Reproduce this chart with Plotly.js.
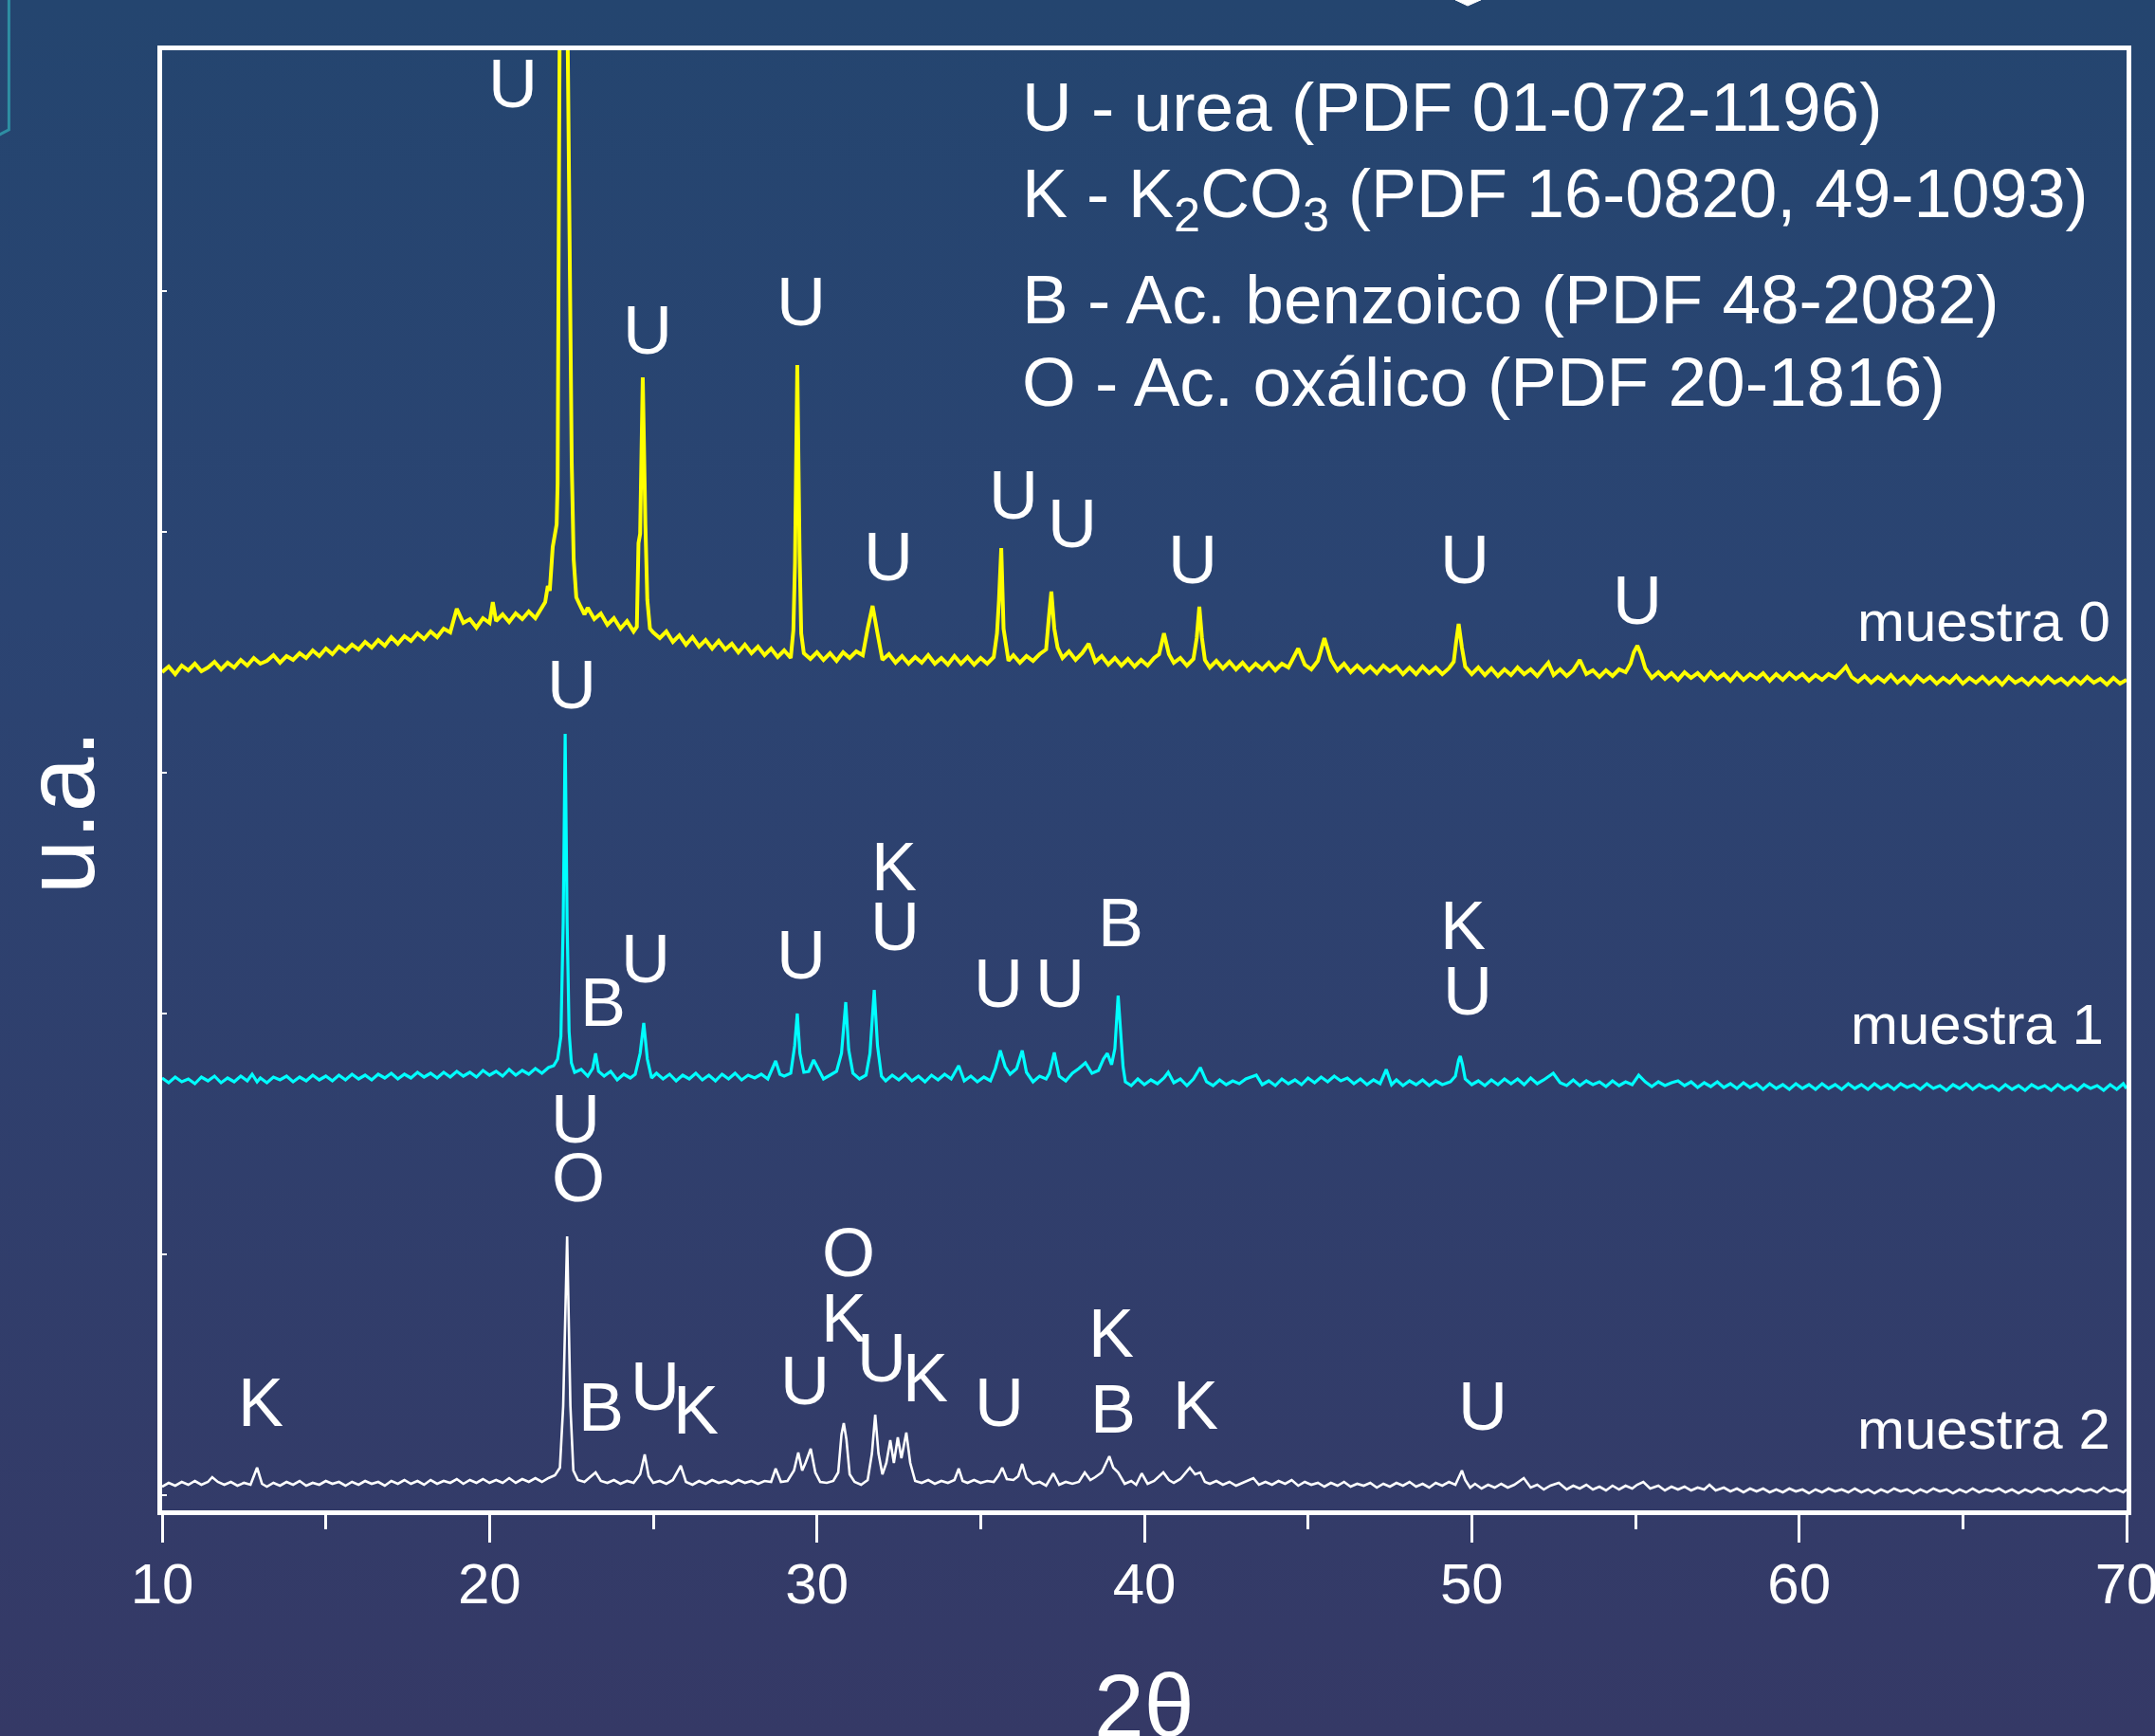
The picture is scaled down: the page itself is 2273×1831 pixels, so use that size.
<!DOCTYPE html>
<html>
<head>
<meta charset="utf-8">
<script src="https://cdn.plot.ly/plotly-3.0.1.min.js"></script>
<style>
html, body { margin: 0; padding: 0; overflow: hidden; }
body { width: 2273px; height: 1831px; background: linear-gradient(to bottom, #24456f 0%, #2b4472 35%, #353966 100%); }
#chart { width: 2273px; height: 1831px; }
</style>
</head>
<body>
<div id="chart"></div>
<script>
// ---- data: [2theta, intensity (arbitrary units, offset stacked)] ----
const muestra0 = [[10.0,884],[10.2,890],[10.4,882],[10.6,891],[10.8,886],[11.0,893],[11.2,885],[11.4,889],[11.6,895],[11.8,887],
[12.0,894],[12.2,889],[12.4,897],[12.6,891],[12.8,899],[13.0,893],[13.2,896],[13.4,902],[13.6,894],[13.8,901],
[14.0,897],[14.2,904],[14.4,899],[14.6,907],[14.8,901],[15.0,909],[15.2,903],[15.4,911],[15.6,906],[15.8,913],
[16.0,908],[16.2,916],[16.4,910],[16.6,918],[16.8,912],[17.0,921],[17.2,914],[17.4,922],[17.6,917],[17.8,925],
[18.0,919],[18.2,927],[18.4,921],[18.6,930],[18.8,926],[19.0,951],[19.2,936],[19.4,940],[19.6,931],[19.8,941],
[20.0,936],[20.1,958],[20.2,938],[20.4,945],[20.6,937],[20.8,946],[21.0,940],[21.2,948],[21.4,941],[21.6,952],
[21.7,958],[21.78,975],[21.84,970],[21.93,1016],[22.05,1040],[22.08,1083],[22.13,1284],[22.19,1540],[22.29,2700],[22.39,1540],
[22.48,1240],[22.51,1106],[22.57,1003],[22.65,963],[22.77,954],[22.9,945],[23.0,952],[23.2,940],[23.4,946],[23.6,934],
[23.8,941],[24.0,930],[24.2,938],[24.4,927],[24.5,932],[24.55,1020],[24.6,1030],[24.68,1195],[24.76,1040],[24.82,960],
[24.9,930],[25.0,926],[25.2,920],[25.4,927],[25.6,916],[25.8,923],[26.0,913],[26.2,921],[26.4,911],[26.6,918],
[26.8,909],[27.0,917],[27.2,908],[27.4,914],[27.6,905],[27.8,913],[28.0,904],[28.2,911],[28.4,902],[28.6,909],
[28.8,900],[29.0,907],[29.2,899],[29.28,928],[29.33,1000],[29.4,1208],[29.47,1010],[29.52,925],[29.6,904],[29.8,898],
[30.0,905],[30.2,897],[30.4,904],[30.6,896],[30.8,905],[31.0,899],[31.2,906],[31.4,902],[31.55,930],[31.7,954],
[31.85,925],[32.0,897],[32.2,903],[32.4,894],[32.6,901],[32.8,893],[33.0,900],[33.2,894],[33.4,902],[33.6,893],
[33.8,899],[34.0,892],[34.2,901],[34.4,893],[34.6,900],[34.8,892],[35.0,899],[35.2,893],[35.4,900],[35.5,925],
[35.56,960],[35.63,1015],[35.7,930],[35.76,915],[35.85,896],[36.0,902],[36.2,894],[36.4,901],[36.6,896],[36.8,903],
[37.0,908],[37.08,940],[37.16,969],[37.25,930],[37.35,910],[37.5,899],[37.7,906],[37.9,897],[38.1,904],[38.3,914],
[38.5,895],[38.7,901],[38.9,892],[39.1,899],[39.3,891],[39.5,898],[39.7,890],[39.9,897],[40.1,891],[40.3,899],
[40.45,903],[40.6,925],[40.75,903],[40.9,894],[41.1,899],[41.3,891],[41.5,898],[41.6,920],[41.68,953],[41.76,920],
[41.85,897],[42.0,889],[42.2,896],[42.4,888],[42.6,895],[42.8,887],[43.0,894],[43.2,886],[43.4,893],[43.6,887],
[43.8,894],[44.0,886],[44.2,893],[44.4,889],[44.7,909],[44.9,892],[45.1,887],[45.3,896],[45.5,920],[45.7,897],
[45.9,886],[46.1,893],[46.3,884],[46.5,891],[46.7,884],[46.9,890],[47.1,883],[47.3,891],[47.5,885],[47.7,890],
[47.9,882],[48.1,889],[48.3,882],[48.5,890],[48.7,883],[48.9,889],[49.1,882],[49.3,888],[49.45,895],[49.52,915],
[49.6,935],[49.7,910],[49.8,890],[50.0,882],[50.2,889],[50.4,881],[50.6,888],[50.8,880],[51.0,887],[51.2,881],
[51.4,889],[51.6,882],[51.8,887],[52.0,880],[52.2,888],[52.34,894],[52.5,881],[52.7,887],[52.9,880],[53.1,886],
[53.3,897],[53.5,882],[53.7,886],[53.9,879],[54.1,886],[54.3,880],[54.5,887],[54.7,884],[54.85,893],[54.95,905],
[55.06,912],[55.18,902],[55.3,888],[55.5,878],[55.7,884],[55.9,877],[56.1,883],[56.3,876],[56.5,884],[56.7,878],
[56.9,883],[57.1,876],[57.3,884],[57.5,877],[57.7,882],[57.9,875],[58.1,883],[58.3,876],[58.5,882],[58.7,877],
[58.9,883],[59.1,875],[59.3,882],[59.5,876],[59.7,883],[59.9,877],[60.1,882],[60.3,875],[60.5,881],[60.7,876],
[60.9,882],[61.1,878],[61.3,885],[61.43,890],[61.6,879],[61.8,874],[62.0,880],[62.2,873],[62.4,879],[62.6,874],
[62.8,881],[63.0,873],[63.2,879],[63.4,872],[63.6,880],[63.8,874],[64.0,879],[64.2,872],[64.4,878],[64.6,873],
[64.8,880],[65.0,872],[65.2,878],[65.4,873],[65.6,879],[65.8,872],[66.0,878],[66.2,871],[66.4,879],[66.6,873],
[66.8,877],[67.0,871],[67.2,878],[67.4,872],[67.6,879],[67.8,873],[68.0,877],[68.2,871],[68.4,878],[68.6,872],
[68.8,879],[69.0,873],[69.2,877],[69.4,871],[69.6,878],[69.8,872],[70.0,876]];

const muestra1 = [[10.0,456],[10.2,451],[10.4,457],[10.6,452],[10.8,455],[11.0,450],[11.2,457],[11.4,453],[11.6,458],[11.8,451],
[12.0,456],[12.2,452],[12.4,458],[12.6,453],[12.75,460],[12.9,452],[13.0,456],[13.2,451],[13.4,457],[13.6,454],
[13.8,458],[14.0,452],[14.2,457],[14.4,453],[14.6,459],[14.8,454],[15.0,458],[15.2,453],[15.4,459],[15.6,454],
[15.8,460],[16.0,455],[16.2,459],[16.4,454],[16.6,460],[16.8,456],[17.0,461],[17.2,455],[17.4,460],[17.6,456],
[17.8,462],[18.0,457],[18.2,461],[18.4,456],[18.6,462],[18.8,457],[19.0,463],[19.2,458],[19.4,462],[19.6,457],
[19.8,464],[20.0,459],[20.2,463],[20.4,458],[20.6,465],[20.8,459],[21.0,464],[21.2,460],[21.4,466],[21.6,461],
[21.8,467],[21.96,469],[22.08,476],[22.18,500],[22.25,620],[22.31,819],[22.37,620],[22.43,505],[22.5,472],[22.6,462],
[22.8,465],[23.0,458],[23.15,466],[23.24,482],[23.33,463],[23.5,458],[23.7,463],[23.9,454],[24.1,460],[24.3,456],
[24.45,460],[24.6,482],[24.71,514],[24.82,476],[24.95,456],[25.1,461],[25.3,455],[25.5,460],[25.7,453],[25.9,459],
[26.1,455],[26.3,461],[26.5,454],[26.7,459],[26.9,453],[27.1,460],[27.3,455],[27.5,461],[27.7,454],[27.9,459],
[28.1,456],[28.3,460],[28.5,455],[28.74,474],[28.87,460],[29.0,458],[29.2,461],[29.32,490],[29.4,524],[29.48,482],
[29.6,462],[29.75,463],[29.9,475],[30.05,465],[30.2,455],[30.4,459],[30.6,463],[30.75,482],[30.88,536],[30.97,486],
[31.1,461],[31.3,455],[31.5,459],[31.62,482],[31.75,549],[31.85,490],[31.97,458],[32.1,453],[32.3,459],[32.5,454],
[32.7,460],[32.9,453],[33.1,458],[33.3,452],[33.5,459],[33.7,454],[33.9,460],[34.1,455],[34.33,469],[34.5,453],
[34.7,458],[34.9,452],[35.1,457],[35.3,453],[35.45,466],[35.6,485],[35.75,468],[35.9,460],[36.1,466],[36.27,485],
[36.4,462],[36.6,452],[36.8,458],[37.0,455],[37.1,461],[37.25,483],[37.4,458],[37.6,453],[37.8,461],[38.0,466],
[38.2,472],[38.4,461],[38.6,464],[38.75,476],[38.87,482],[39.0,470],[39.1,487],[39.2,543],[39.28,500],[39.35,468],
[39.42,452],[39.6,448],[39.8,455],[40.0,449],[40.2,454],[40.4,450],[40.6,456],[40.73,462],[40.9,451],[41.1,455],
[41.3,448],[41.5,455],[41.71,467],[41.9,452],[42.1,448],[42.3,454],[42.5,449],[42.7,453],[42.9,450],[43.1,455],
[43.42,459],[43.6,449],[43.8,453],[44.0,448],[44.2,455],[44.4,450],[44.6,454],[44.8,449],[45.0,456],[45.2,451],
[45.4,457],[45.6,452],[45.8,458],[46.0,453],[46.2,456],[46.4,450],[46.6,455],[46.8,449],[47.0,454],[47.2,450],
[47.39,465],[47.55,449],[47.7,454],[47.9,448],[48.1,453],[48.3,449],[48.5,454],[48.7,448],[48.9,453],[49.1,449],
[49.35,452],[49.5,458],[49.6,475],[49.65,479],[49.72,470],[49.8,455],[50.0,449],[50.2,453],[50.4,448],[50.6,454],
[50.8,449],[51.0,455],[51.2,450],[51.4,455],[51.6,449],[51.8,456],[52.0,450],[52.2,454],[52.49,461],[52.7,451],
[52.9,448],[53.1,454],[53.3,448],[53.5,453],[53.7,449],[53.9,452],[54.1,447],[54.3,453],[54.5,448],[54.7,452],
[54.9,449],[55.1,459],[55.3,452],[55.5,447],[55.7,452],[55.9,448],[56.1,451],[56.3,453],[56.5,448],[56.7,452],
[56.9,446],[57.1,451],[57.3,447],[57.5,452],[57.7,446],[57.9,450],[58.1,445],[58.3,451],[58.5,446],[58.7,450],
[58.9,444],[59.1,450],[59.3,445],[59.5,449],[59.7,444],[59.9,450],[60.1,445],[60.3,449],[60.5,444],[60.7,450],
[60.9,445],[61.1,449],[61.3,444],[61.5,450],[61.7,445],[61.9,449],[62.1,444],[62.3,450],[62.5,445],[62.7,449],
[62.9,444],[63.1,450],[63.3,446],[63.5,449],[63.7,444],[63.9,450],[64.1,445],[64.3,448],[64.5,443],[64.7,449],
[64.9,445],[65.1,450],[65.3,444],[65.5,449],[65.7,445],[65.9,448],[66.1,443],[66.3,449],[66.5,444],[66.7,448],
[66.9,443],[67.1,449],[67.3,445],[67.5,448],[67.7,443],[67.9,449],[68.1,444],[68.3,448],[68.5,443],[68.7,449],
[68.9,445],[69.1,448],[69.3,443],[69.5,449],[69.7,444],[69.9,450],[70.0,445]];

const muestra2 = [[10.0,25],[10.2,29],[10.4,26],[10.6,30],[10.8,27],[11.0,31],[11.2,27],[11.4,30],[11.53,35],[11.7,30],
[11.9,27],[12.1,30],[12.3,26],[12.5,29],[12.7,27],[12.9,45],[13.05,28],[13.2,25],[13.4,29],[13.6,26],
[13.8,30],[14.0,27],[14.2,31],[14.4,26],[14.6,29],[14.8,27],[15.0,31],[15.2,28],[15.4,30],[15.6,26],
[15.8,30],[16.0,27],[16.2,31],[16.4,28],[16.6,30],[16.8,26],[17.0,31],[17.2,28],[17.4,32],[17.6,28],
[17.8,31],[18.0,27],[18.2,32],[18.4,28],[18.6,31],[18.8,29],[19.0,33],[19.2,28],[19.4,32],[19.6,29],
[19.8,33],[20.0,29],[20.2,32],[20.4,29],[20.6,34],[20.8,29],[21.0,33],[21.2,30],[21.4,34],[21.6,30],
[21.8,34],[22.0,37],[22.15,45],[22.25,110],[22.37,289],[22.47,110],[22.56,42],[22.7,32],[22.9,30],[23.05,34],
[23.24,40],[23.4,31],[23.6,29],[23.8,32],[24.0,28],[24.2,31],[24.4,29],[24.6,38],[24.74,59],[24.86,36],
[25.0,29],[25.2,31],[25.4,28],[25.6,32],[25.84,47],[26.0,30],[26.2,27],[26.4,31],[26.6,28],[26.8,32],
[27.0,29],[27.2,31],[27.4,28],[27.6,32],[27.8,29],[28.0,31],[28.2,28],[28.4,31],[28.6,30],[28.74,44],
[28.9,30],[29.1,31],[29.3,42],[29.43,61],[29.55,42],[29.65,50],[29.81,65],[29.95,40],[30.1,30],[30.3,29],
[30.5,31],[30.65,40],[30.75,80],[30.82,92],[30.9,75],[31.0,38],[31.15,30],[31.35,27],[31.55,32],[31.68,60],
[31.78,101],[31.88,60],[32.0,38],[32.12,50],[32.24,74],[32.35,50],[32.47,77],[32.58,55],[32.66,70],[32.73,82],
[32.85,50],[33.0,31],[33.2,29],[33.4,32],[33.6,28],[33.8,31],[34.0,29],[34.2,32],[34.33,44],[34.45,31],
[34.6,29],[34.8,32],[35.0,29],[35.2,31],[35.4,30],[35.55,37],[35.66,45],[35.8,33],[36.0,32],[36.15,36],
[36.27,49],[36.4,34],[36.6,28],[36.8,30],[37.0,26],[37.22,39],[37.4,27],[37.6,30],[37.8,28],[38.0,30],
[38.18,40],[38.35,32],[38.5,35],[38.7,40],[38.93,57],[39.05,45],[39.2,40],[39.4,28],[39.6,31],[39.75,27],
[39.92,39],[40.1,28],[40.3,31],[40.58,40],[40.75,32],[40.9,29],[41.1,33],[41.39,45],[41.55,38],[41.71,40],
[41.85,30],[42.0,28],[42.2,31],[42.4,27],[42.6,30],[42.8,26],[43.0,29],[43.33,34],[43.5,27],[43.7,30],
[43.9,27],[44.1,31],[44.3,28],[44.5,32],[44.7,26],[44.9,30],[45.1,27],[45.3,29],[45.5,25],[45.7,29],
[45.9,26],[46.1,30],[46.3,25],[46.5,28],[46.7,26],[46.9,29],[47.1,24],[47.3,28],[47.5,25],[47.7,29],
[47.9,26],[48.1,30],[48.3,25],[48.5,28],[48.7,24],[48.9,29],[49.1,26],[49.3,30],[49.5,27],[49.6,35],
[49.7,42],[49.8,32],[49.95,24],[50.1,28],[50.3,23],[50.5,27],[50.7,24],[50.9,28],[51.1,24],[51.3,27],
[51.59,34],[51.8,24],[52.0,27],[52.2,22],[52.4,26],[52.66,29],[52.9,22],[53.1,26],[53.3,23],[53.5,27],
[53.7,22],[53.9,25],[54.1,21],[54.3,26],[54.5,22],[54.7,26],[54.9,23],[55.05,27],[55.24,30],[55.45,23],
[55.7,26],[55.9,21],[56.1,25],[56.3,22],[56.5,25],[56.7,21],[56.9,24],[57.1,22],[57.26,27],[57.45,21],
[57.7,24],[57.9,20],[58.1,23],[58.3,19],[58.5,23],[58.7,20],[58.9,23],[59.1,19],[59.3,22],[59.5,19],
[59.7,23],[59.9,20],[60.1,22],[60.3,18],[60.5,22],[60.7,19],[60.9,23],[61.1,20],[61.3,22],[61.5,19],
[61.7,23],[61.9,19],[62.1,22],[62.3,18],[62.5,22],[62.7,19],[62.9,23],[63.1,20],[63.3,22],[63.5,18],
[63.7,22],[63.9,19],[64.1,23],[64.3,20],[64.5,22],[64.7,18],[64.9,22],[65.1,19],[65.3,23],[65.5,19],
[65.7,22],[65.9,20],[66.1,23],[66.3,19],[66.5,22],[66.7,18],[66.9,22],[67.1,19],[67.3,23],[67.5,20],
[67.7,22],[67.9,18],[68.1,22],[68.3,19],[68.5,23],[68.7,20],[68.9,22],[69.1,19],[69.3,24],[69.5,20],
[69.7,22],[69.9,19],[70.0,22]];

// ---- peak identification labels ----
const peakLabelText = ['U','U','U','U','U','U','U','U','U',
  'U','B','U','U','K','U','U','U','B','K','U',
  'U','O','K','B','U','K','U','O','K','U','K','U','K','B','K','U'];
const peakLabelX = [20.71,24.83,29.52,32.18,36.0,37.80,41.48,49.79,55.06,
  22.51,23.47,24.77,29.52,32.36,32.38,35.54,37.42,39.28,49.73,49.87,
  22.63,22.71,13.01,23.41,25.06,26.30,29.63,30.97,30.82,31.98,33.31,35.57,38.99,39.04,41.56,50.34];
const peakLabelY = [1505,1245,1275,1006,1071,1041,1003,1003,960,
  871,536,582,586,679,616,556,556,620,617,548,
  413,351,114,109,131,106,137,272,203,161,140,114,187,107,111,110];

const sampleNames = ['muestra 0','muestra 1','muestra 2'];
const sampleLabelX = [69.57,69.37,69.57];
const sampleLabelY = [938,513,86];

const phaseLegend = ['U - urea (PDF 01-072-1196)',
  'K - K<sub>2</sub>CO<sub>3</sub> (PDF 16-0820, 49-1093)',
  'B - Ac. benzoico (PDF 48-2082)',
  'O - Ac. oxálico (PDF 20-1816)'];

const xTitle = '2θ';
const yTitle = 'u.a.';

// ---- build ----
const FONT = 'Liberation Sans, Arial, Helvetica, sans-serif';
const colors = ['#ffff00', '#00ffff', '#ffffff'];
const widths = [4, 3.2, 2.6];
const series = [muestra0, muestra1, muestra2];

const traces = series.map((s, i) => ({
  x: s.map(p => p[0]),
  y: s.map(p => p[1]),
  type: 'scatter',
  mode: 'lines',
  line: { color: colors[i], width: widths[i] },
  name: sampleNames[i],
  hoverinfo: 'skip'
}));

const annotations = [];
peakLabelText.forEach((t, i) => {
  annotations.push({ text: t, x: peakLabelX[i], y: peakLabelY[i], xref: 'x', yref: 'y',
    showarrow: false, xanchor: 'center', yanchor: 'middle',
    font: { family: FONT, size: 72, color: '#ffffff' } });
});
sampleNames.forEach((t, i) => {
  annotations.push({ text: t, x: sampleLabelX[i], y: sampleLabelY[i], xref: 'x', yref: 'y',
    showarrow: false, xanchor: 'right', yanchor: 'middle',
    font: { family: FONT, size: 60, color: '#ffffff' } });
});
const legY = [1481, 1431, 1278, 1191];
const legAnchor = ['middle', 'top', 'middle', 'middle'];
const legSize = [73, 72, 73, 73];
phaseLegend.forEach((t, i) => {
  annotations.push({ text: t, x: 0.4367, y: legY[i], xref: 'paper', yref: 'y',
    showarrow: false, xanchor: 'left', yanchor: legAnchor[i], align: 'left',
    font: { family: FONT, size: legSize[i], color: '#ffffff' } });
});
annotations.push({ text: xTitle, x: 0.5, y: -0.098, xref: 'paper', yref: 'paper',
  showarrow: false, xanchor: 'center', yanchor: 'top',
  font: { family: FONT, size: 95, color: '#ffffff' } });
annotations.push({ text: yTitle, x: -0.052, y: 0.478, xref: 'paper', yref: 'paper',
  showarrow: false, xanchor: 'center', yanchor: 'middle', textangle: -90,
  font: { family: FONT, size: 104, color: '#ffffff' } });

const layout = {
  width: 2273, height: 1831,
  margin: { l: 171, r: 30, t: 53, b: 238, pad: 0 },
  paper_bgcolor: 'rgba(0,0,0,0)',
  plot_bgcolor: 'rgba(0,0,0,0)',
  showlegend: false,
  xaxis: {
    range: [10, 70], showline: true, mirror: true, linecolor: '#ffffff', linewidth: 5,
    ticks: 'outside', ticklen: 29, tickwidth: 3, tickcolor: '#ffffff',
    tickmode: 'linear', tick0: 10, dtick: 10, showgrid: false, zeroline: false,
    ticklabeloverflow: 'allow', ticklabelstandoff: -8,
    tickfont: { family: FONT, size: 60, color: '#ffffff' },
    minor: { dtick: 5, ticks: 'outside', ticklen: 15, tickwidth: 3, tickcolor: '#ffffff', showgrid: false }
  },
  yaxis: {
    range: [0, 1540], showline: true, mirror: true, linecolor: '#ffffff', linewidth: 5,
    ticks: 'inside', ticklen: 5, tickwidth: 2, tickcolor: '#ffffff',
    tick0: 16, dtick: 254, showticklabels: false, showgrid: false, zeroline: false
  },
  annotations: annotations,
  shapes: [
    { type: 'path', xref: 'paper', yref: 'paper',
      path: 'M -0.0780 1.0400 L -0.0780 0.9455 L -0.0830 0.9420',
      line: { color: '#2e8fa3', width: 3 } },
    { type: 'path', xref: 'paper', yref: 'paper',
      path: 'M 0.6583 1.0345 L 0.6646 1.0305 L 0.6713 1.0345 Z',
      fillcolor: '#ffffff', line: { color: '#ffffff', width: 1 } }
  ]
};

Plotly.newPlot('chart', traces, layout, { displayModeBar: false, staticPlot: true });
</script>
</body>
</html>
